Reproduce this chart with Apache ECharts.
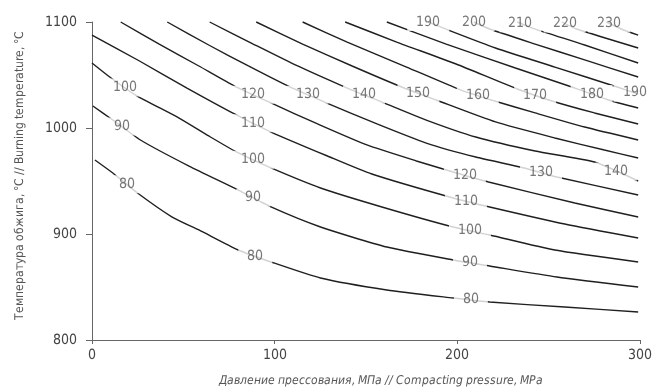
<!DOCTYPE html>
<html><head><meta charset="utf-8">
<script src="https://cdn.jsdelivr.net/npm/echarts/dist/echarts.min.js"></script>
<style>
html,body{margin:0;padding:0;background:#fff}#c{width:655px;height:388px}
@font-face{font-family:'NarrowF';font-style:normal;src:local('Liberation Sans Narrow'),local('LiberationSansNarrow-Regular'),local('DejaVu Sans Condensed'),local('DejaVuSansCondensed');}
@font-face{font-family:'NarrowF';font-style:italic;src:local('Liberation Sans Narrow Italic'),local('LiberationSansNarrow-Italic'),local('DejaVu Sans Condensed Oblique'),local('DejaVuSansCondensed-Oblique');}
</style>
</head><body><div id="c"></div>
<script>
const FONT = "NarrowF, 'Liberation Sans Narrow', 'DejaVu Sans Condensed', sans-serif";

// Axis ticks
const xTicks = [0, 100, 200, 300];
const yTicks = [800, 900, 1000, 1100];
const xName = 'Давление прессования, МПа // Compacting pressure, MPa';
const yName = 'Температура обжига, °C // Burning temperature, °C';

// Contour levels
const levels = [80, 90, 100, 110, 120, 130, 140, 150, 160, 170, 180, 190, 200, 210, 220, 230];

// Contour lines: [pressure MPa, temperature °C]
const c80  = [[1.6,969.8],[11.4,957.5],[24.9,938.7],[43.9,916.0],[58.5,903.8],[80.1,884.9],[98.0,873.6],[125.1,858.5],[161.4,847.2],[197.7,839.6],[217.7,835.8],[258.8,831.1],[299,826.4]];
const c90  = [[0.5,1020.8],[11.4,1007.5],[26.5,988.7],[53.1,964.1],[80.1,941.5],[98.0,925.5],[125.1,906.6],[161.4,887.7],[197.7,875.5],[217.7,869.8],[254.5,859.4],[299,850.0]];
const c100 = [[0,1061.3],[9.7,1048.1],[23.8,1031.1],[47.7,1009.4],[63.9,992.5],[79.1,977.4],[98.0,962.3],[125.1,943.4],[158.7,925.5],[197.7,906.6],[217.7,899.1],[253.4,884.9],[299,873.6]];
const c110 = [[0,1087.7],[26.0,1063.2],[52.0,1037.7],[79.1,1012.3],[98.0,996.2],[128.9,973.6],[153.2,956.6],[197.7,934.0],[217.7,925.5],[258.8,909.4],[299,896.2]];
const c120 = [[15.7,1100],[36.8,1079.2],[58.5,1058.5],[78.0,1039.6],[98.0,1023.6],[123.5,1003.8],[150.5,984.0],[177.6,968.9],[197.7,958.5],[217.1,949.1],[264.3,929.2],[299,916.0]];
const c130 = [[41.2,1100],[63.9,1078.3],[85.6,1058.5],[108.3,1038.7],[127.3,1024.5],[156.0,1003.8],[183.0,985.8],[210.1,972.6],[236.6,962.3],[254.5,953.8],[299,936.8]];
const c140 = [[64.4,1100],[88.3,1079.2],[112.6,1058.5],[139.7,1037.7],[158.7,1024.5],[183.0,1007.5],[210.1,991.5],[242.6,978.3],[275.1,967.9],[299,950.0]];
const c150 = [[89.9,1100],[115.3,1079.2],[142.4,1058.5],[169.5,1038.7],[188.4,1026.4],[220.9,1005.7],[253.4,990.6],[280.5,979.2],[299,971.7]];
const c160 = [[115.3,1100],[139.7,1081.1],[172.2,1057.5],[202.0,1035.8],[220.4,1025.5],[242.6,1014.2],[269.7,1000.9],[299,988.7]];
const c170 = [[138.6,1100],[166.8,1081.1],[199.3,1060.4],[232.8,1036.8],[251.8,1025.5],[275.1,1014.2],[299,1003.8]];
const c180 = [[161.4,1100],[193.9,1079.2],[231.8,1056.6],[264.3,1037.7],[282.7,1026.4],[299,1018.9]];
const c190 = [[184.1,1100],[194.9,1092.5],[220.9,1075.5],[253.4,1057.5],[287.5,1038.7],[299,1032.1]];
const c200 = [[209.0,1100],[217.7,1093.4],[242.6,1079.2],[269.7,1064.2],[299,1048.1]];
const c210 = [[232.8,1100],[241.0,1094.3],[269.7,1078.3],[299,1061.3]];
const c220 = [[257.2,1100],[265.3,1093.4],[299,1075.5]];
const c230 = [[281.6,1100],[289.7,1093.4],[299,1087.7]];

// Pressure positions of the inline labels for each contour
const lab80  = [19.0, 89.4, 207.4];
const lab90  = [16.2, 88.3, 206.9];
const lab100 = [17.9, 88.3, 206.9];
const lab110 = [88.3, 204.7];
const lab120 = [88.3, 204.1];
const lab130 = [118.0, 245.8];
const lab140 = [148.9, 287.0];
const lab150 = [178.7];
const lab160 = [211.2];
const lab170 = [242.6];
const lab180 = [273.5];
const lab190 = [184.1, 297.0];
const lab200 = [209.0];
const lab210 = [234.5];
const lab220 = [258.8];
const lab230 = [283.2];

const curves = [c80,c90,c100,c110,c120,c130,c140,c150,c160,c170,c180,c190,c200,c210,c220,c230];
const labs = [lab80,lab90,lab100,lab110,lab120,lab130,lab140,lab150,lab160,lab170,lab180,lab190,lab200,lab210,lab220,lab230];

function interp(pts, x) {
  if (x <= pts[0][0]) return pts[0][1];
  for (let i = 1; i < pts.length; i++) {
    if (x <= pts[i][0]) {
      const [x0,y0] = pts[i-1], [x1,y1] = pts[i];
      return y0 + (y1 - y0) * (x - x0) / (x1 - x0);
    }
  }
  return pts[pts.length-1][1];
}

function buildOption() {
  const series = [];
  curves.forEach((pts) => {
    series.push({
      type: 'line', data: pts, showSymbol: false, symbol: 'none', smooth: 0.2,
      lineStyle: { color: '#1f1f1f', width: 1.4 }, silent: true, z: 2, clip: false
    });
  });
  const labelData = [];
  labs.forEach((xs, i) => {
    xs.forEach(x => labelData.push({ name: String(levels[i]), value: [x, interp(curves[i], x)] }));
  });
  series.push({
    type: 'scatter', data: labelData, symbolSize: 2, itemStyle: { color: 'rgba(0,0,0,0)' }, silent: true, z: 5, clip: false,
    label: {
      show: true, position: 'inside', formatter: p => p.name,
      backgroundColor: '#fff', padding: [2, 9], color: '#555', fontSize: 13.5, fontFamily: FONT
    }
  });
  return {
    animation: false,
    backgroundColor: '#fff',
    grid: { left: 92, right: 9, top: 22, bottom: 48, containLabel: false },
    xAxis: {
      type: 'value', min: xTicks[0], max: xTicks[xTicks.length-1], interval: 100,
      axisLine: { show: true, lineStyle: { color: '#666', width: 1 } },
      axisTick: { show: true, length: 4, lineStyle: { color: '#666' } },
      splitLine: { show: false },
      axisLabel: { color: '#444', fontSize: 13.5, fontFamily: FONT, margin: 8, formatter: v => String(v) }
    },
    yAxis: {
      type: 'value', min: yTicks[0], max: yTicks[yTicks.length-1], interval: 100,
      axisLine: { show: true, lineStyle: { color: '#666', width: 1 } },
      axisTick: { show: true, length: 6, lineStyle: { color: '#666' } },
      splitLine: { show: false },
      axisLabel: { color: '#444', fontSize: 13.5, fontFamily: FONT, margin: 15, formatter: v => String(v) }
    },
    graphic: [
      { type: 'text', x: 20, y: 175, rotation: Math.PI / 2,
        style: { text: yName, fill: '#555', font: '12.3px ' + FONT, textAlign: 'center', textVerticalAlign: 'middle' } },
      { type: 'text', x: 381, y: 381,
        style: { text: xName, fill: '#555', font: 'italic 12px ' + FONT, textAlign: 'center', textVerticalAlign: 'middle' } }
    ],
    series: series
  };
}

let chart = echarts.init(document.getElementById('c'), null, { renderer: 'canvas' });
chart.setOption(buildOption());
Promise.all([document.fonts.load('14px NarrowF'), document.fonts.load('italic 13px NarrowF')]).then(() => {
  chart.dispose();
  chart = echarts.init(document.getElementById('c'), null, { renderer: 'canvas' });
  chart.setOption(buildOption());
}).catch(() => {});
</script></body></html>
